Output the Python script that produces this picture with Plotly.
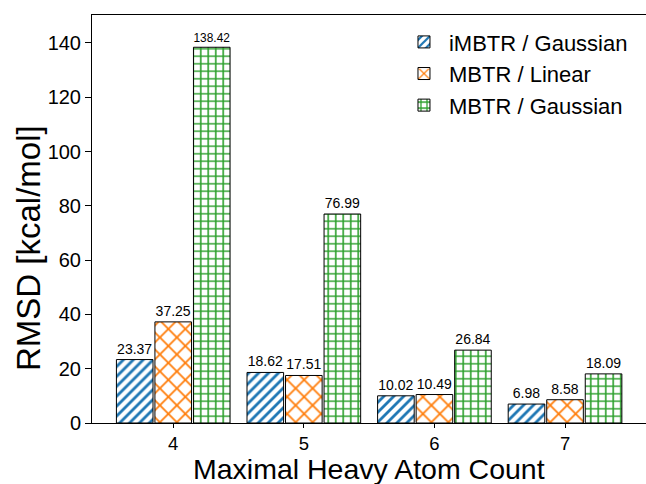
import plotly.graph_objects as go

categories = [4, 5, 6, 7]
imbtr_gauss = [23.37, 18.62, 10.02, 6.98]
mbtr_linear = [37.25, 17.51, 10.49, 8.58]
mbtr_gauss = [138.42, 76.99, 26.84, 18.09]

series = [
    ("iMBTR / Gaussian", imbtr_gauss, "#1f77b4", "/", 7, 0.4),
    ("MBTR / Linear", mbtr_linear, "#ff7f0e", "x", 12, 0.28),
    ("MBTR / Gaussian", mbtr_gauss, "#2ca02c", "+", 7.5, 0.38),
]

FONT = "Liberation Sans, Arial, Helvetica, sans-serif"

fig = go.Figure()
for i, (name, vals, col, shape, size, sol) in enumerate(series):
    fig.add_trace(go.Bar(
        x=categories, y=vals, name=name, legendgroup=f"g{i}",
        text=[f"{v:.2f}" for v in vals],
        textposition="outside", cliponaxis=False,
        textfont=dict(size=14, color="black", family=FONT),
        marker=dict(color="white",
                    line=dict(color="black", width=1),
                    pattern=dict(shape=shape, fgcolor=col, bgcolor="white",
                                 fgopacity=1, size=size, solidity=sol,
                                 fillmode="replace")),
    ))

fig.update_layout(
    width=646, height=484,
    margin=dict(l=92, r=0, t=15, b=61),
    paper_bgcolor="white", plot_bgcolor="white",
    barmode="group", bargap=0.115, bargroupgap=0.05,
    font=dict(family=FONT, color="black"),
    legend=dict(x=0.9765, y=0.985, xanchor="right", yanchor="top",
                font=dict(size=22, family=FONT), bgcolor="rgba(0,0,0,0)",
                itemwidth=40, tracegroupgap=0),
    xaxis=dict(range=[3.378, 7.62], tickvals=categories,
               ticktext=[str(c) for c in categories],
               showline=True, linecolor="black", linewidth=1, mirror=True,
               ticks="outside", ticklen=4, tickcolor="black",
               tickfont=dict(size=18.5), showgrid=False, zeroline=False,
               automargin=False),
    yaxis=dict(range=[0, 150.3], tickvals=[0, 20, 40, 60, 80, 100, 120, 140],
               showline=True, linecolor="black", linewidth=1,
               ticks="outside", ticklen=6, tickcolor="black",
               tickfont=dict(size=20), showgrid=False, zeroline=False,
               automargin=False),
    annotations=[
        dict(text="RMSD [kcal/mol]", textangle=-90, showarrow=False,
             xref="paper", yref="paper", x=(28 - 92) / 554, y=(423 - 248) / 408,
             xanchor="center", yanchor="middle", font=dict(size=33)),
        dict(text="Maximal Heavy Atom Count", showarrow=False,
             xref="paper", yref="paper", x=0.5, y=(423 - 469) / 408,
             xanchor="center", yanchor="middle", font=dict(size=28.5)),
    ],
)

fig.write_html("out.html")
